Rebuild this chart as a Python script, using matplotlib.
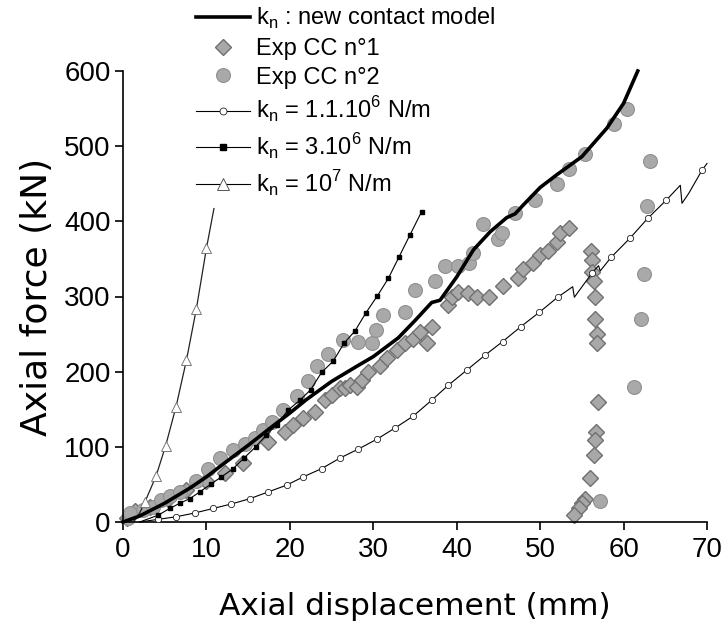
import matplotlib
matplotlib.use('Agg')
import matplotlib.pyplot as plt
from matplotlib.lines import Line2D

plt.rcParams['font.family'] = ['Liberation Sans', 'DejaVu Sans']
plt.rcParams['mathtext.fontset'] = 'custom'
plt.rcParams['mathtext.rm'] = 'Liberation Sans'

# k_n : new contact model (thick line)
new_x = [0, 2, 5, 8, 10, 12, 15, 18, 20, 22, 25, 28, 30, 33, 35, 37, 38, 40,
         42, 44, 46, 47, 48, 50, 52, 55, 58, 60, 61.7]
new_y = [0, 8, 25, 45, 60, 77, 102, 128, 145, 163, 187, 207, 220, 245, 268, 292,
         295, 326, 362, 386, 405, 410, 422, 445, 462, 486, 524, 557, 600]

# Exp CC n°1 (diamonds)
exp1_x = [0.5, 1.4, 3.2, 5.4, 7.6, 10.0, 12.2, 14.4, 17.4, 19.4, 20.4, 21.6,
          23.0, 24.2, 25.0, 26.0, 26.6, 27.2, 28.0, 28.6, 29.4, 30.8, 31.6, 32.8,
          33.8, 34.8, 35.6, 36.4, 37.0, 39.0, 39.4, 40.2, 41.4, 42.4, 43.9, 45.6,
          47.3, 47.9, 49.2, 50.0, 51.0, 52.0, 52.4, 53.4,
          56.1, 56.2, 56.2, 56.4, 56.6, 56.6, 56.8, 56.8, 56.9, 56.7, 56.6, 56.5,
          56.0, 55.4, 55.0, 54.6, 54.0]
exp1_y = [5, 14, 20, 31, 42, 54, 65, 79, 107, 120, 129, 138,
          147, 162, 169, 178, 178, 182, 180, 189, 200, 208, 218, 229,
          238, 244, 253, 238, 260, 289, 300, 306, 304, 299, 300, 314,
          324, 336, 344, 355, 360, 373, 385, 391,
          361, 349, 332, 320, 300, 270, 250, 238, 159, 120, 109, 89,
          59, 31, 25, 18, 9]

# Exp CC n°2 (circles)
exp2_x = [0.6, 0.8, 2.4, 3.6, 4.6, 5.6, 6.8, 8.7, 10.2, 11.6, 13.2, 14.6,
          15.8, 16.8, 17.8, 19.2, 20.8, 22.2, 23.2, 24.6, 26.4, 28.2, 29.8, 30.3,
          31.2, 33.8, 35.0, 37.4, 38.6, 40.2, 41.5, 42.0, 43.2, 45.0, 45.4, 47.0,
          49.4, 52.0, 53.4, 55.4, 58.8, 60.4, 63.2, 62.8, 62.4, 62.1, 61.3, 57.2]
exp2_y = [5, 12, 16, 20, 29, 34, 40, 55, 70, 85, 96, 104,
          112, 122, 133, 149, 167, 187, 207, 224, 242, 240, 238, 255,
          275, 280, 309, 320, 340, 340, 345, 358, 396, 377, 385, 411,
          429, 450, 469, 490, 530, 550, 480, 420, 330, 270, 179, 28]

# k_n = 1.1.10^6 N/m
k1_x = [2.0, 4.2, 6.4, 8.6, 10.8, 13.0, 15.2, 17.4, 19.6, 21.6, 23.8, 26.0, 28.2,
        30.4, 32.6, 34.8, 37.0, 39.0, 41.2, 43.4, 45.5, 47.7, 49.9, 52.1, 53.9,
        54.1, 56.2, 57.0, 57.2, 58.5, 60.8, 62.9, 65.1, 66.8, 67.0, 67.8, 69.4, 70.0]
k1_y = [0, 3.5, 7, 12, 18, 24, 31, 40, 49, 60, 71, 85, 97,
        110, 125, 141, 162, 182, 202, 222, 240, 260, 279, 299, 313,
        299, 331, 341, 334, 352, 378, 404, 428, 448, 424, 437, 468, 477]
k1_mx = [4.2, 6.4, 8.6, 10.8, 13.0, 15.2, 17.4, 19.6, 21.6, 23.8, 26.0, 28.2,
         30.4, 32.6, 34.8, 37.0, 39.0, 41.2, 43.4, 45.5, 47.7, 49.9, 52.1,
         56.2, 58.5, 60.8, 62.9, 65.1, 69.4]
k1_my = [3.5, 7, 12, 18, 24, 31, 40, 49, 60, 71, 85, 97,
         110, 125, 141, 162, 182, 202, 222, 240, 260, 279, 299,
         331, 352, 378, 404, 428, 468]

# k_n = 3.10^6 N/m
k3_x = [2.0, 4.2, 5.6, 6.8, 8.0, 9.2, 10.6, 11.8, 13.2, 14.5, 15.9, 17.2, 18.4,
        19.8, 21.2, 22.5, 23.8, 25.2, 26.5, 27.8, 29.1, 30.5, 31.8, 33.1, 34.4, 35.8]
k3_y = [0, 9, 18, 25, 31, 40, 51, 60, 71, 85, 100, 116, 129,
        149, 162, 176, 199, 214, 238, 254, 278, 301, 324, 353, 382, 413]

# k_n = 10^7 N/m
k7_x = [1.2, 2.0, 2.64, 3.96, 5.1, 6.35, 7.6, 8.8, 10.0, 10.9]
k7_y = [0, 12, 27, 61, 101, 153, 215, 284, 364, 417]
k7_mx = [2.64, 3.96, 5.1, 6.35, 7.6, 8.8, 10.0]
k7_my = [27, 61, 101, 153, 215, 284, 364]

fig = plt.figure(figsize=(7.26, 6.36), dpi=100)
ax = fig.add_axes([123/726, 1-522/636, (707-123)/726, (522-71)/636])

dia_kw = dict(ls='none', marker='D', ms=8, mfc='#a8a8a8', mec='#707070', mew=1.0)
cir_kw = dict(ls='none', marker='o', ms=10, mfc='#a9a9a9', mec='#909090', mew=0.8)

ax.plot(k1_x, k1_y, color='k', lw=0.8, clip_on=False, zorder=3)
ax.plot(k1_mx, k1_my, ls='none', marker='o', ms=4.5, mfc='white', mec='#222222',
        mew=0.6, clip_on=False, zorder=3)
ax.plot(k3_x, k3_y, color='k', lw=0.8, clip_on=False, zorder=3)
ax.plot(k3_x[1:], k3_y[1:], ls='none', marker='s', ms=3.5, color='k',
        clip_on=False, zorder=3)
ax.plot(k7_x, k7_y, color='#222222', lw=0.9, clip_on=False, zorder=3)
ax.plot(k7_mx, k7_my, ls='none', marker='^', ms=7, mfc='white', mec='#777777',
        mew=0.7, clip_on=False, zorder=3)
ax.plot(exp1_x, exp1_y, clip_on=False, zorder=2, **dia_kw)
ax.plot(exp2_x, exp2_y, clip_on=False, zorder=2, **cir_kw)
ax.plot(new_x, new_y, color='k', lw=2.6, clip_on=False, zorder=4)

ax.set_xlim(0, 70)
ax.set_ylim(0, 600)
ax.set_xticks(range(0, 71, 10))
ax.set_yticks(range(0, 601, 100))
for s in ['top', 'right']:
    ax.spines[s].set_visible(False)
for s in ['left', 'bottom']:
    ax.spines[s].set_linewidth(1.2)
ax.tick_params(direction='out', length=6, width=1.2, labelsize=20)
ax.tick_params(axis='y', pad=3)
ax.tick_params(axis='x', pad=5)
ax.set_xlabel('Axial displacement (mm)', fontsize=22.5, family='DejaVu Sans',
              labelpad=21)
ax.set_ylabel('Axial force (kN)', fontsize=26, family='DejaVu Sans', labelpad=7)

handles = [
    Line2D([], [], color='k', lw=2.6),
    Line2D([], [], **dia_kw),
    Line2D([], [], **cir_kw),
    Line2D([], [], color='k', lw=0.8, marker='o', ms=5, mfc='white', mec='#222222', mew=0.6),
    Line2D([], [], color='k', lw=0.8, marker='s', ms=4.5),
    Line2D([], [], color='k', lw=0.8, marker='^', ms=8, mfc='white', mec='#555555', mew=0.7),
]
labels = [
    r'k$_\mathregular{n}$ : new contact model',
    'Exp CC n°1',
    'Exp CC n°2',
    r'k$_\mathregular{n}$ = 1.1.10$^\mathregular{6}$ N/m',
    r'k$_\mathregular{n}$ = 3.10$^\mathregular{6}$ N/m',
    r'k$_\mathregular{n}$ = 10$^\mathregular{7}$ N/m',
]
fig.legend(handles, labels, loc='upper left', bbox_to_anchor=(195/726, 1 - 5/636),
           frameon=False, fontsize=17, handlelength=2.3, handletextpad=0.25,
           borderpad=0.05, borderaxespad=0, labelspacing=0.28)

fig.savefig('out.png', dpi=100)
